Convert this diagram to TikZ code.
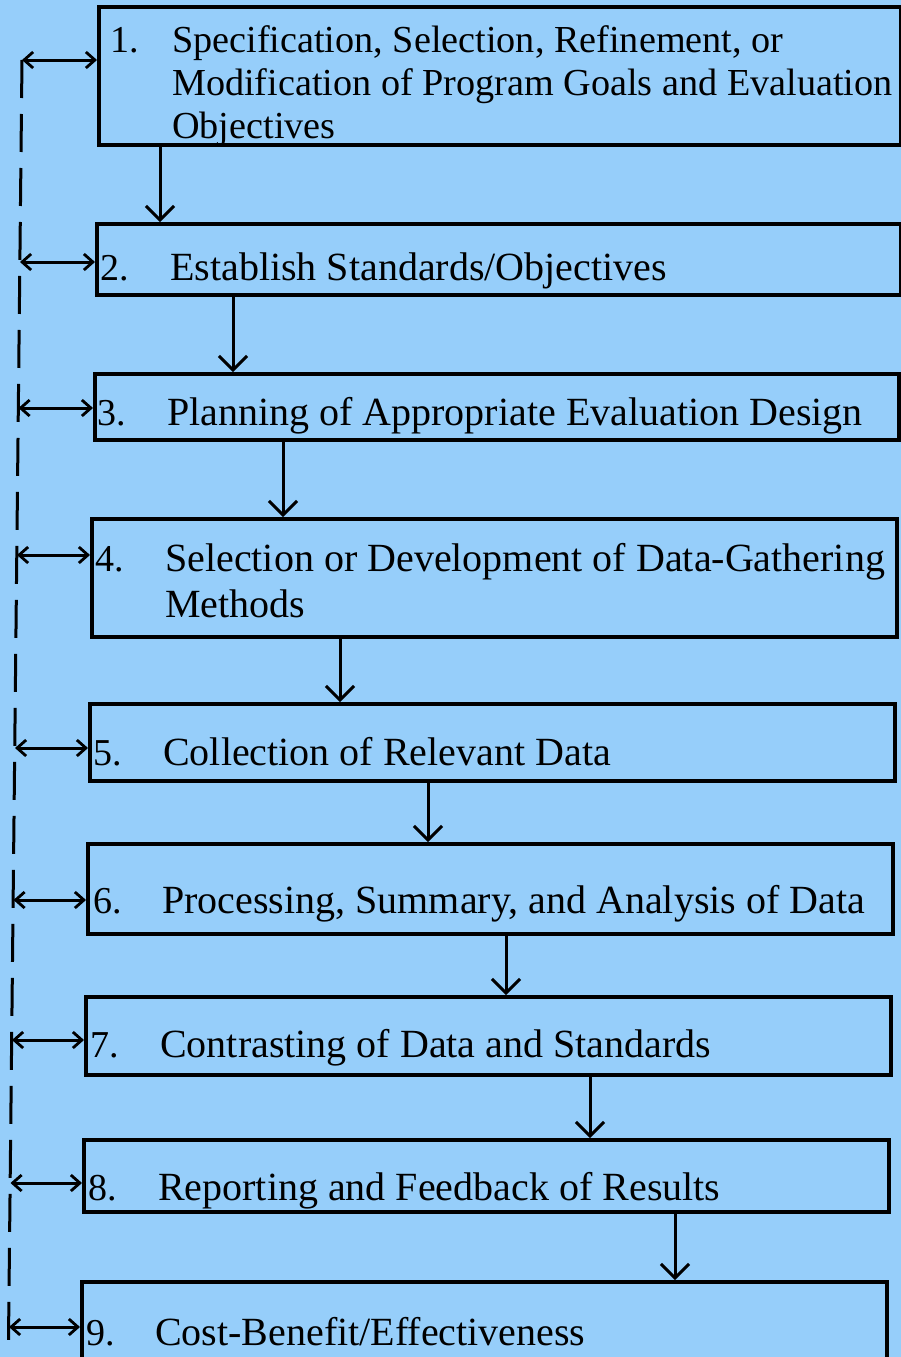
\documentclass[tikz,border=0pt]{standalone}
\usepackage{fontspec}
\setmainfont{Liberation Serif}
\usetikzlibrary{arrows.meta,calc}
\definecolor{sheet}{RGB}{150,206,250}

\tikzset{
  stepbox/.style={draw, line width=3.6pt, anchor=north west, inner sep=0pt},
  num/.style={anchor=base west, inner sep=0pt, font=\fontsize{38}{43}\selectfont},
  txt/.style={anchor=base west, inner sep=0pt, align=left, font=\fontsize{40}{43}\selectfont},
  flow/.style={line width=3pt, -{Straight Barb[length=14pt,width=28pt,line width=3pt]}},
  back/.style={line width=3pt, {Straight Barb[length=9pt,width=16pt,line width=2.8pt]}-{Straight Barb[length=9pt,width=16pt,line width=2.8pt]}},
  loopline/.style={line width=3pt, dash pattern=on 38pt off 16pt}
}

\begin{document}
\begin{tikzpicture}[x=1pt,y=-1pt]
  \fill[sheet] (0,0) rectangle (901,1357);
  \useasboundingbox (0,0) rectangle (901,1357);

  % the nine steps
  \node[stepbox, minimum width=802pt, minimum height=138pt] (b1) at (97,5) {};
  \node[num] (n1) at (110,52) {1.};
  \node[txt, font=\fontsize{38.2}{43}\selectfont] (t1) at (172,138) {Specification, Selection, Refinement, or\\Modification of Program Goals and Evaluation\\Objectives};

  \node[stepbox, minimum width=804pt, minimum height=71pt] (b2) at (95,222) {};
  \node[num] (n2) at (100,280) {2.};
  \node[txt] (t2) at (170,280) {Establish Standards/Objectives};

  \node[stepbox, minimum width=804pt, minimum height=66pt] (b3) at (93,372) {};
  \node[num] (n3) at (97,425) {3.};
  \node[txt] (t3) at (167,425) {Planning of Appropriate Evaluation Design};

  \node[stepbox, minimum width=805pt, minimum height=118pt] (b4) at (90,517) {};
  \node[num] (n4) at (95,571) {4.};
  \node[txt, font=\fontsize{40}{46}\selectfont] (t4) at (165,617) {Selection or Development of Data-Gathering\\Methods};

  \node[stepbox, minimum width=805pt, minimum height=77pt] (b5) at (88,702) {};
  \node[num] (n5) at (93,765) {5.};
  \node[txt] (t5) at (163,765) {Collection of Relevant Data};

  \node[stepbox, minimum width=805pt, minimum height=90pt] (b6) at (86,842) {};
  \node[num] (n6) at (93,913) {6.};
  \node[txt] (t6) at (162,913) {Processing, Summary, and Analysis of Data};

  \node[stepbox, minimum width=805pt, minimum height=78pt] (b7) at (84,995) {};
  \node[num] (n7) at (90,1057) {7.};
  \node[txt] (t7) at (160,1057) {Contrasting of Data and Standards};

  \node[stepbox, minimum width=805pt, minimum height=72pt] (b8) at (82,1138) {};
  \node[num] (n8) at (88,1200) {8.};
  \node[txt] (t8) at (158,1200) {Reporting and Feedback of Results};

  \node[stepbox, minimum width=805pt, minimum height=100pt] (b9) at (80,1280) {};
  \node[num] (n9) at (86,1345) {9.};
  \node[txt] (t9) at (155,1345) {Cost-Benefit/Effectiveness};

  % downward flow
  \draw[flow] (b1.south west) ++(63,0) coordinate (a1) -- (a1 |- b2.north);
  \draw[flow] (b2.south west) ++(138,0) coordinate (a2) -- (a2 |- b3.north);
  \draw[flow] (b3.south west) ++(190,0) coordinate (a3) -- (a3 |- b4.north);
  \draw[flow] (b4.south west) ++(250,0) coordinate (a4) -- (a4 |- b5.north);
  \draw[flow] (b5.south west) ++(340,0) coordinate (a5) -- (a5 |- b6.north);
  \draw[flow] (b6.south west) ++(420,0) coordinate (a6) -- (a6 |- b7.north);
  \draw[flow] (b7.south west) ++(506,0) coordinate (a7) -- (a7 |- b8.north);
  \draw[flow] (b8.south west) ++(593,0) coordinate (a8) -- (a8 |- b9.north);

  % feedback line on the left
  \coordinate (e1) at (22,60);
  \coordinate (e2) at (20,262);
  \coordinate (e3) at (18.5,408);
  \coordinate (e4) at (17,555);
  \coordinate (e5) at (15,748);
  \coordinate (e6) at (13.5,900);
  \coordinate (e7) at (12,1040);
  \coordinate (e8) at (10.5,1183);
  \coordinate (e9) at (9,1327);
  \coordinate (fbend) at (8.5,1340);
  \draw[loopline] (e1) -- (fbend);

  \draw[back] (e1) -- (e1 -| b1.west);
  \draw[back] (e2) -- (e2 -| b2.west);
  \draw[back] (e3) -- (e3 -| b3.west);
  \draw[back] (e4) -- (e4 -| b4.west);
  \draw[back] (e5) -- (e5 -| b5.west);
  \draw[back] (e6) -- (e6 -| b6.west);
  \draw[back] (e7) -- (e7 -| b7.west);
  \draw[back] (e8) -- (e8 -| b8.west);
  \draw[back] (e9) -- (e9 -| b9.west);
\end{tikzpicture}
\end{document}
